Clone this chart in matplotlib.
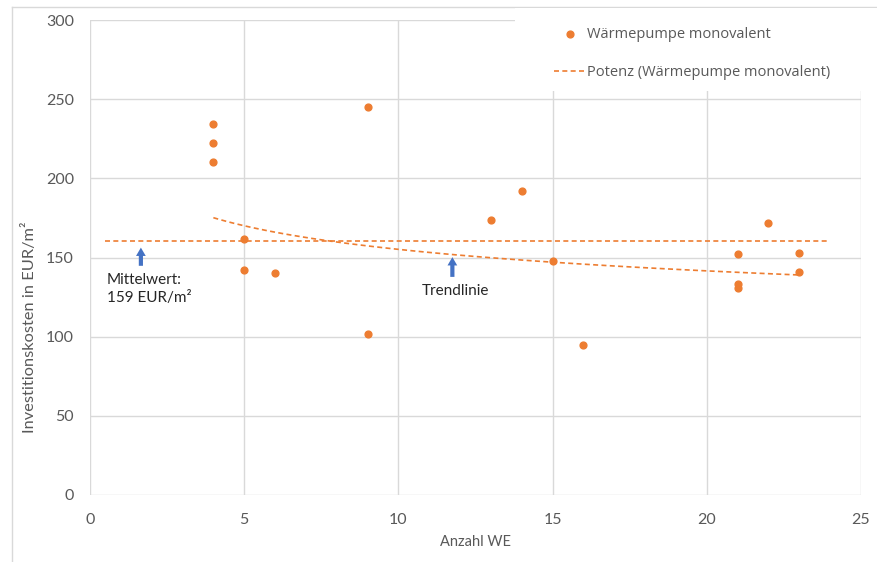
import numpy as np
import matplotlib.pyplot as plt
from matplotlib.lines import Line2D
from matplotlib.patches import Rectangle

# data
anzahl_we = [4, 4, 4, 5, 5, 6, 9, 9, 13, 14, 15, 16, 21, 21, 21, 22, 23, 23]
kosten = [234, 222, 210, 162, 142, 140, 245, 102, 174, 192, 148, 95, 152, 133, 131, 172, 153, 141]

mittelwert = 160.5
mittelwert_x = [0.5, 24.0]

# power trendline y = a * x^b (Excel "Potenz")
trend_a = 210.4
trend_b = -0.1323
trend_x_range = [4, 23]

x_ticks = [0, 5, 10, 15, 20, 25]
y_ticks = [0, 50, 100, 150, 200, 250, 300]

orange = '#ED7D31'
blue = '#4472C4'
grey_text = '#595959'
grid_grey = '#D9D9D9'

plt.rcParams['font.family'] = ['Lato', 'DejaVu Sans']

fig = plt.figure(figsize=(8.78, 5.62), dpi=100)
ax = fig.add_axes([90 / 878, 1 - 495 / 562, (861 - 90) / 878, (495 - 20) / 562])

ax.set_xlim(0, 25)
ax.set_ylim(0, 300)
ax.set_xticks(x_ticks)
ax.set_yticks(y_ticks)
ax.grid(True, color=grid_grey, linewidth=1)
ax.set_axisbelow(True)
for s in ax.spines.values():
  s.set_visible(False)
ax.tick_params(length=0, colors=grey_text, labelsize=11.5)
ax.tick_params(axis='x', pad=13)
ax.tick_params(axis='y', pad=11.5)

ax.scatter(anzahl_we, kosten, s=24, color=orange, zorder=3, label='Wärmepumpe monovalent')

xs = np.linspace(trend_x_range[0], trend_x_range[1], 100)
ax.plot(xs, trend_a * xs ** trend_b, color=orange, linewidth=1.2, dashes=(3, 2),
        label='Potenz (Wärmepumpe monovalent)')
ax.plot(mittelwert_x, [mittelwert, mittelwert], color=orange, linewidth=1.2, dashes=(3, 2))

# annotations
arrow = dict(arrowstyle='simple,head_width=0.7,head_length=0.6,tail_width=0.3', color=blue, lw=0)
ax.annotate('', xy=(1.65, 158), xytext=(1.65, 143), arrowprops=arrow)
ax.text(0.55, 140, 'Mittelwert:\n159 EUR/m²', fontsize=11, color='#262626', va='top',
        linespacing=1.35)
ax.annotate('', xy=(11.75, 152), xytext=(11.75, 136), arrowprops=arrow)
ax.text(11.85, 133, 'Trendlinie', fontsize=11, color='#262626', va='top', ha='center')

ax.set_xlabel('Anzahl WE', fontsize=10.5, color=grey_text, labelpad=6)
ax.set_ylabel('Investitionskosten in EUR/m²', fontsize=11.8, color=grey_text)
ax.yaxis.set_label_coords(-0.069, 0.354)

# white box behind the legend, covering the grid
fig.add_artist(Rectangle((515 / 878, 1 - 91 / 562), 363 / 878, 83 / 562,
                         transform=fig.transFigure, facecolor='white', edgecolor='none', zorder=4))

leg = fig.legend(loc='upper left', bbox_to_anchor=(554 / 878, 1 - 27 / 562),
                 bbox_transform=fig.transFigure, frameon=False,
                 prop={'family': 'Open Sans', 'size': 10.5}, labelcolor=grey_text,
                 handlelength=2.13, handletextpad=0.15, labelspacing=1.55, borderpad=0,
                 borderaxespad=0)
leg.set_zorder(5)

# outer chart frame
fig.add_artist(Line2D([12 / 878, 12 / 878], [0, 1 - 7 / 562], color=grid_grey, linewidth=1))
fig.add_artist(Line2D([12 / 878, 1], [1 - 7 / 562, 1 - 7 / 562], color=grid_grey, linewidth=1))

plt.savefig('out.png', dpi=100)
